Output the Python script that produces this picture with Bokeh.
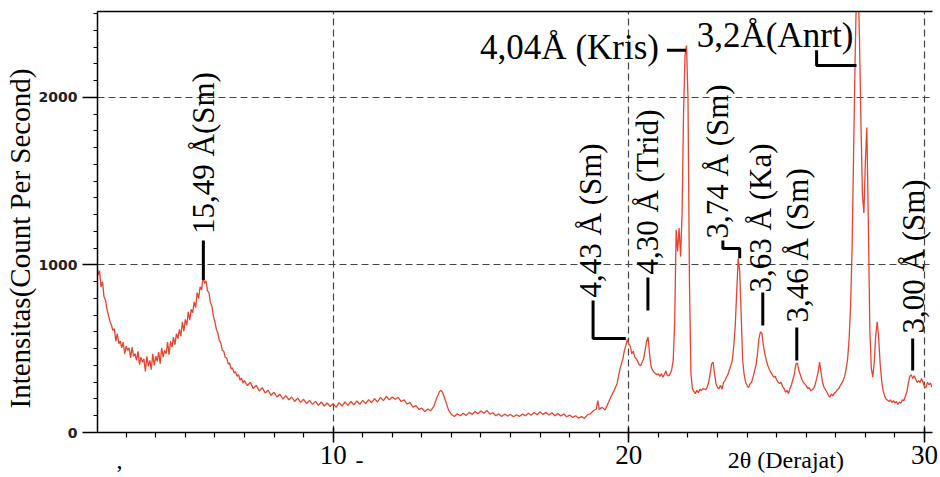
import math
from bokeh.plotting import figure
from bokeh.models import Range1d, FixedTicker, LinearAxis, Label, Title, CustomJSTickFormatter
from bokeh.embed import file_html
from bokeh.resources import INLINE

# ---------------- data ----------------
two_theta = [
    2.00, 2.05, 2.10, 2.15, 2.20, 2.25, 2.30, 2.35, 2.40, 2.45, 2.50, 2.55, 2.60, 2.65, 2.70, 2.75,
    2.80, 2.85, 2.90, 2.95, 3.00, 3.05, 3.10, 3.15, 3.20, 3.25, 3.30, 3.35, 3.40, 3.45, 3.50, 3.55,
    3.60, 3.65, 3.70, 3.75, 3.80, 3.85, 3.90, 3.95, 4.00, 4.05, 4.10, 4.15, 4.20, 4.25, 4.30, 4.35,
    4.40, 4.45, 4.50, 4.55, 4.60, 4.65, 4.70, 4.75, 4.80, 4.85, 4.90, 4.95, 5.00, 5.05, 5.10, 5.15,
    5.20, 5.25, 5.30, 5.35, 5.40, 5.45, 5.50, 5.55, 5.60, 5.65, 5.70, 5.75, 5.80, 5.85, 5.90, 5.95,
    6.00, 6.05, 6.10, 6.15, 6.20, 6.25, 6.30, 6.35, 6.40, 6.45, 6.50, 6.55, 6.60, 6.65, 6.70, 6.75,
    6.80, 6.85, 6.90, 6.95, 7.00, 7.10, 7.20, 7.30, 7.40, 7.50, 7.60, 7.70, 7.80, 7.90, 8.00, 8.10,
    8.20, 8.30, 8.40, 8.50, 8.60, 8.70, 8.80, 8.90, 9.00, 9.10, 9.20, 9.30, 9.40, 9.50, 9.60, 9.70,
    9.80, 9.90, 10.00,
    10.1, 10.2, 10.3, 10.4, 10.5, 10.6, 10.7, 10.8, 10.9, 11.0, 11.1, 11.2, 11.3, 11.4, 11.5, 11.6,
    11.7, 11.8, 11.9, 12.0, 12.1, 12.2, 12.3, 12.4, 12.5, 12.6, 12.7, 12.8, 12.9, 13.0, 13.1, 13.2,
    13.3, 13.4, 13.5, 13.6, 13.65, 13.7, 13.8, 13.9, 14.0, 14.1, 14.2, 14.3, 14.4, 14.5, 14.6, 14.7,
    14.8, 14.9, 15.0, 15.1, 15.2, 15.3, 15.4, 15.5, 15.6, 15.7, 15.8, 15.9, 16.0, 16.1, 16.2, 16.3,
    16.4, 16.5, 16.6, 16.7, 16.8, 16.9, 17.0, 17.1, 17.2, 17.3, 17.4, 17.5, 17.6, 17.7, 17.8, 17.9,
    18.0, 18.1, 18.2, 18.3, 18.4, 18.5, 18.6, 18.7, 18.8, 18.9, 18.95, 19.0, 19.1, 19.2, 19.3, 19.4,
    19.5, 19.6, 19.7, 19.75, 19.8, 19.85, 19.9, 19.95, 20.0,
    20.05, 20.10, 20.15, 20.20, 20.25, 20.30, 20.35, 20.40, 20.45, 20.50, 20.55, 20.60, 20.65, 20.70,
    20.75, 20.80, 20.85, 20.90, 20.95, 21.00, 21.05, 21.10, 21.15, 21.20, 21.25, 21.30, 21.35, 21.40,
    21.45, 21.50, 21.55, 21.60, 21.65, 21.70, 21.75, 21.80, 21.85, 21.90, 21.95, 22.00, 22.05, 22.10,
    22.15, 22.20, 22.25, 22.30, 22.35, 22.40, 22.45, 22.50, 22.55, 22.60, 22.65, 22.70, 22.75, 22.80,
    22.85, 22.90, 22.95, 23.00, 23.05, 23.10, 23.15, 23.20, 23.25, 23.30, 23.35, 23.40, 23.45, 23.50,
    23.55, 23.60, 23.65, 23.70, 23.75, 23.80, 23.85, 23.90, 23.95, 24.00, 24.05, 24.10, 24.15, 24.20,
    24.25, 24.30, 24.35, 24.40, 24.45, 24.50, 24.55, 24.60, 24.65, 24.70, 24.75, 24.80, 24.85, 24.90,
    24.95, 25.00, 25.05, 25.10, 25.15, 25.20, 25.25, 25.30, 25.35, 25.40, 25.45, 25.50, 25.55, 25.60,
    25.65, 25.70, 25.75, 25.80, 25.85, 25.90, 25.95, 26.00, 26.05, 26.10, 26.15, 26.20, 26.25, 26.30,
    26.35, 26.40, 26.45, 26.50, 26.55, 26.60, 26.65, 26.70, 26.75, 26.80, 26.85, 26.90, 26.95, 27.00,
    27.05, 27.10, 27.15, 27.20, 27.25, 27.30, 27.35, 27.40, 27.45, 27.50, 27.55, 27.60, 27.65, 27.70,
    27.75, 27.80, 27.85, 27.90, 27.95, 28.00, 28.05, 28.10, 28.15, 28.20, 28.25, 28.30, 28.35, 28.40,
    28.45, 28.50, 28.55, 28.60, 28.65, 28.70, 28.75, 28.80, 28.85, 28.90, 28.95, 29.00, 29.05, 29.10,
    29.15, 29.20, 29.25, 29.30, 29.35, 29.40, 29.45, 29.50, 29.55, 29.60, 29.65, 29.70, 29.75, 29.80,
    29.85, 29.90, 29.95, 30.00, 30.05, 30.10, 30.15, 30.20, 30.25,
]
intensity = [
    1010, 940, 965, 870, 900, 810, 790, 735, 700, 665, 640, 610, 620, 545, 590, 530,
    545, 505, 540, 470, 515, 490, 505, 445, 510, 455, 470, 430, 485, 405, 450, 420,
    440, 365, 455, 395, 430, 375, 470, 400, 455, 425, 480, 410, 505, 450, 490, 470,
    540, 465, 545, 510, 570, 525, 590, 560, 615, 575, 660, 605, 675, 640, 720, 670,
    735, 715, 780, 745, 835, 800, 870, 850, 930, 890, 905, 845, 835, 775, 755, 695,
    660, 615, 595, 550, 535, 490, 485, 450, 445, 410, 415, 380, 385, 355, 362, 335,
    345, 312, 325, 295, 310, 280, 300, 262, 282, 248, 268, 236, 252, 222, 240, 212,
    228, 200, 220, 195, 212, 185, 205, 180, 198, 172, 192, 168, 186, 162, 182, 158,
    176, 155, 172,
    150, 178, 158, 182, 162, 185, 165, 188, 168, 192, 172, 196, 178, 202, 182, 210,
    190, 215, 195, 212, 198, 210, 185, 195, 170, 178, 152, 160, 138, 145, 125, 140,
    130, 155, 205, 245, 252, 240, 190, 135, 108, 95, 112, 100, 115, 102, 120, 108,
    125, 112, 128, 115, 132, 110, 118, 100, 112, 96, 110, 98, 108, 94, 106, 96,
    110, 100, 115, 104, 120, 106, 122, 108, 120, 104, 118, 100, 114, 98, 110, 94,
    104, 90, 100, 86, 95, 84, 105, 112, 130, 140, 190, 138, 150, 135, 175, 215,
    250, 290, 380, 410, 440, 490, 520, 555, 530,
    515, 470, 485, 450, 440, 425, 405, 398, 420, 440, 490, 545, 570, 470,
    395, 372, 360, 352, 345, 350, 335, 352, 330, 345, 368, 342, 338, 352,
    375, 430, 650, 1210, 1080, 1220, 1050, 1300, 1900, 2250, 2310, 2000, 900, 350,
    262, 245, 232, 252, 238, 258, 250, 262, 260, 255, 270, 300, 350, 410,
    420, 350, 290, 268, 262, 282, 258, 298, 310, 330, 345, 375, 400, 430,
    520, 640, 850, 1040, 960, 700, 430, 345, 300, 280, 268, 290, 300, 330,
    365, 400, 470, 560, 600, 592, 520, 470, 430, 400, 378, 360, 345, 330,
    335, 315, 300, 292, 300, 275, 262, 240, 252, 232, 262, 285, 318, 350,
    410, 415, 370, 345, 318, 300, 290, 280, 262, 268, 250, 255, 262, 285,
    320, 360, 420, 360, 300, 270, 255, 240, 222, 210, 230, 218, 235, 242,
    255, 262, 280, 295, 310, 335, 380, 440, 560, 760, 1100, 1650, 2200, 2650,
    2750, 2350, 1850, 1420, 1310, 1620, 1820, 1250, 620, 385, 330, 420, 580, 660,
    560, 410, 310, 250, 220, 200, 192, 185, 195, 178, 190, 175, 185, 168,
    182, 175, 195, 190, 215, 240, 290, 335, 345, 322, 338, 320, 300, 310,
    298, 322, 300, 275, 268, 300, 285, 295, 270,
]
assert len(two_theta) == len(intensity)

x_ticks = [10, 20, 30]
x_minor_ticks = list(range(3, 31))
y_ticks = [0, 1000, 2000]
y_minor_ticks = list(range(100, 2600, 100))

x_title = "2θ (Derajat)"
x_title_at = 25.31
y_title = "Intensitas(Count Per Second)"
# two stray marks printed under the axis in the scanned original
stray_marks = {2.77: ",", 10.89: "-"}

# vertical peak labels: text, centre x (2θ), start y (counts)
v_labels = ["15,49 Å(Sm)", "4,43 Å (Sm)", "4,30 Å (Trid)", "3,74 Å (Sm)",
            "3,63 Å (Ka)", "3,46 Å (Sm)", "3,00 Å (Sm)"]
v_label_x = [5.61, 18.70, 20.64, 23.00, 24.45, 25.70, 29.63]
v_label_y = [1185, 806, 943, 1158, 836, 657, 591]

# horizontal peak labels: text, left x, middle y
h_labels = ["4,04Å (Kris)", "3,2Å(Anrt)"]
h_label_x = [14.97, 22.30]
h_label_y = [2298, 2370]

# leader lines of the labels
leader_xs = [[5.61, 5.61], [18.79, 18.79, 19.90], [20.645, 20.645], [23.18, 23.18, 23.75, 23.75],
             [24.53, 24.53], [25.68, 25.68], [29.60, 29.60], [21.29, 21.93], [26.35, 26.35, 27.70]]
leader_ys = [[1146, 910], [788, 561, 561], [925, 728], [1146, 1099, 1099, 1040],
             [836, 639], [627, 430], [561, 370], [2281, 2281], [2281, 2191, 2191]]

SERIF = "'Liberation Serif', 'Times New Roman', serif"

# ---------------- figure ----------------
p = figure(width=940, height=477, x_range=Range1d(2.03, 30.27), y_range=Range1d(0, 2513),
           output_backend="svg", toolbar_location=None,
           min_border_left=97, min_border_right=8, min_border_top=11, min_border_bottom=45)
p.outline_line_color = None
p.background_fill_color = "white"
p.border_fill_color = "white"

xa = p.xaxis[0]
ya = p.yaxis[0]

xa.ticker = FixedTicker(ticks=x_ticks, minor_ticks=x_minor_ticks)
xa.axis_line_color = "black"
xa.axis_line_width = 1.5
xa.major_tick_line_color = "black"
xa.major_tick_line_width = 1.5
xa.major_tick_out = 10
xa.major_tick_in = 5
xa.minor_tick_line_color = "black"
xa.minor_tick_line_width = 1.2
xa.minor_tick_out = 5
xa.minor_tick_in = 0
xa.major_label_standoff = 3
xa.major_label_text_font = SERIF
xa.major_label_text_font_style = "normal"
xa.major_label_text_font_size = "27px"
xa.major_label_text_color = "black"

# second x axis, pulled up onto the tick-number line: axis title and stray marks
extra = dict(stray_marks)
extra[x_title_at] = x_title
extra_keys = {f"{k:.2f}": v for k, v in extra.items()}
xlab = LinearAxis(ticker=FixedTicker(ticks=sorted(extra), minor_ticks=[]),
                  formatter=CustomJSTickFormatter(
                      args=dict(labels=extra_keys),
                      code="const k = tick.toFixed(2); return (k in labels) ? labels[k] : '';"))
xlab.axis_line_color = None
xlab.major_tick_line_color = None
xlab.minor_tick_line_color = None
xlab.major_tick_out = 0
xlab.major_tick_in = 0
xlab.minor_tick_out = 0
xlab.minor_tick_in = 0
xlab.major_label_standoff = -20
xlab.major_label_text_font = SERIF
xlab.major_label_text_font_style = "normal"
xlab.major_label_text_font_size = "24px"
xlab.major_label_text_color = "black"
p.add_layout(xlab, "below")

ya.ticker = FixedTicker(ticks=y_ticks, minor_ticks=y_minor_ticks)
ya.axis_line_color = "black"
ya.axis_line_width = 1.5
ya.major_tick_line_color = "black"
ya.major_tick_line_width = 1.5
ya.major_tick_out = 15
ya.major_tick_in = 0
ya.minor_tick_line_color = "black"
ya.minor_tick_line_width = 1.2
ya.minor_tick_out = 4
ya.minor_tick_in = 0
ya.major_label_standoff = 5
ya.major_label_text_font = "DejaVu Sans"
ya.major_label_text_font_style = "bold"
ya.major_label_text_font_size = "14px"
ya.major_label_text_color = "#222222"

p.add_layout(Title(text=y_title, align="left", offset=24, standoff=0,
                   text_font="Liberation Serif", text_font_size="29px",
                   text_font_style="normal", text_color="black"), "left")

top_axis = LinearAxis(ticker=FixedTicker(ticks=[]), major_tick_out=0, major_tick_in=0,
                      minor_tick_out=0, minor_tick_in=0, axis_line_color="black",
                      axis_line_width=1.5)
p.add_layout(top_axis, "above")

for g in (p.xgrid[0], p.ygrid[0]):
    g.grid_line_color = "#444444"
    g.grid_line_dash = "7 4"
    g.grid_line_width = 1.2

# trace
p.line(two_theta, intensity, line_color="#e3452f", line_width=1.3)

# leaders
p.multi_line(leader_xs, leader_ys, line_color="black", line_width=3)

# labels
for t, x, y in zip(v_labels, v_label_x, v_label_y):
    p.add_layout(Label(x=x, y=y, text=t, angle=math.pi / 2, text_align="left",
                       text_baseline="middle", text_font="Liberation Serif",
                       text_font_size="31px", text_color="black"))
for t, x, y in zip(h_labels, h_label_x, h_label_y):
    p.add_layout(Label(x=x, y=y, text=t, text_align="left", text_baseline="middle",
                       text_font="Liberation Serif", text_font_size="35px", text_color="black"))

open("out.html", "w").write(file_html(p, INLINE))
